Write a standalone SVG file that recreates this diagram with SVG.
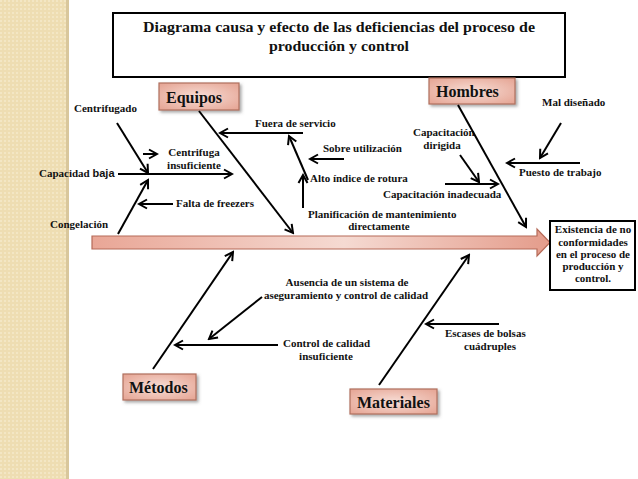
<svg xmlns="http://www.w3.org/2000/svg" width="638" height="479" viewBox="0 0 638 479">
<style>
.t{font-family:"Liberation Serif","Times New Roman",serif;font-weight:bold;font-size:11px;fill:#111}
.s{font-family:"Liberation Sans",Arial,sans-serif;font-weight:bold}
.big{font-size:16px}
.title{font-size:15.5px}
.c{text-anchor:middle}
.ln{stroke:#000;stroke-width:2;fill:none;marker-end:url(#ah)}
.cat{fill:url(#pk);stroke:#B0705E;stroke-width:1.2;filter:url(#sh)}
.wb{fill:#fff;stroke:#000;stroke-width:2}
</style>
<defs>
<pattern id="dots" width="4" height="4" patternUnits="userSpaceOnUse">
<rect width="4" height="4" fill="#EEDDB2"/>
<rect width="2" height="2" fill="#F3E6C4"/>
</pattern>
<radialGradient id="pk" cx="0.5" cy="0.5" r="0.7">
<stop offset="0" stop-color="#F7DDD5"/>
<stop offset="1" stop-color="#E5A392"/>
</radialGradient>
<linearGradient id="sp" x1="0" y1="0" x2="1" y2="0">
<stop offset="0" stop-color="#E9A696"/>
<stop offset="0.55" stop-color="#F5DAD2"/>
<stop offset="1" stop-color="#E49C8B"/>
</linearGradient>
<filter id="sh" x="-20%" y="-20%" width="150%" height="160%">
<feDropShadow dx="2" dy="2" stdDeviation="1.5" flood-color="#555" flood-opacity="0.5"/>
</filter>
<marker id="ah" viewBox="-10 -6 12 12" refX="0" refY="0" markerWidth="12" markerHeight="12" markerUnits="userSpaceOnUse" orient="auto">
<path d="M-8,-4.5 L0,0 L-8,4.5" fill="none" stroke="#000" stroke-width="2"/>
</marker>
</defs>
<rect width="638" height="479" fill="#fff"/>
<rect x="0" y="0" width="68" height="479" fill="url(#dots)"/>
<rect x="66" y="0" width="3" height="479" fill="#D9C79C"/>

<g id="title">
<rect class="wb" x="113" y="13" width="452" height="64"/>
<text class="t title c" x="339" y="32" textLength="392" lengthAdjust="spacingAndGlyphs">Diagrama causa y efecto de las deficiencias del proceso de</text>
<text class="t title c" x="339" y="51" textLength="140" lengthAdjust="spacingAndGlyphs">producción y control</text>
</g>

<g id="spine">
<path d="M92,236 L537,236 L537,229 L550,242.5 L537,256 L537,249 L92,249 Z" fill="url(#sp)" stroke="#B56A58" stroke-width="1.2"/>
</g>

<g id="effect">
<rect class="wb" x="550" y="221" width="85" height="69"/>
<text class="t c" x="593" y="233">Existencia de no</text>
<text class="t c" x="593" y="245.5">conformidades</text>
<text class="t c" x="593" y="258">en el proceso de</text>
<text class="t c" x="593" y="270">producción y</text>
<text class="t c" x="593" y="282">control.</text>
</g>

<g id="equipos">
<rect class="cat" x="159" y="83" width="80" height="27"/>
<text class="t big" x="166" y="103">Equipos</text>
</g>
<g id="hombres">
<rect class="cat" x="429" y="78" width="86" height="26"/>
<text class="t big" x="436" y="97">Hombres</text>
</g>
<g id="metodos">
<rect class="cat" x="123" y="374" width="73" height="26"/>
<text class="t big" x="129" y="393">Métodos</text>
</g>
<g id="materiales">
<rect class="cat" x="350" y="389" width="87" height="25"/>
<text class="t big" x="357" y="408">Materiales</text>
</g>

<g id="labels">
<text class="t" x="74" y="112">Centrifugado</text>
<text class="t c" x="194" y="156">Centrifuga</text>
<text class="t c" x="194" y="169">insuficiente</text>
<text class="t" x="39" y="177">Capacidad <tspan class="s">baja</tspan></text>
<text class="t" x="176" y="207">Falta de freezers</text>
<text class="t" x="50" y="228">Congelación</text>
<text class="t" x="255" y="127">Fuera de servicio</text>
<text class="t" x="323" y="152">Sobre utilización</text>
<text class="t" x="310" y="182">Alto índice de rotura</text>
<text class="t" x="308" y="218">Planificación de mantenimiento</text>
<text class="t c" x="379" y="230">directamente</text>
<text class="t" x="413" y="136">Capacitación</text>
<text class="t c" x="442" y="149">dirigida</text>
<text class="t" x="383" y="198">Capacitación inadecuada</text>
<text class="t" x="542" y="106">Mal diseñado</text>
<text class="t" x="519" y="176">Puesto de trabajo</text>
<text class="t c" x="347" y="286">Ausencia de un sistema de</text>
<text class="t c" x="346" y="299">aseguramiento y control de calidad</text>
<text class="t" x="283" y="347">Control de calidad</text>
<text class="t c" x="326" y="360">insuficiente</text>
<text class="t" x="445" y="337">Escases de bolsas</text>
<text class="t c" x="490" y="350">cuádruples</text>
</g>

<g id="connectors">
<line class="ln" x1="117" y1="123" x2="148" y2="173"/>
<line class="ln" x1="143" y1="154" x2="157" y2="154"/>
<line class="ln" x1="118" y1="174" x2="232" y2="174"/>
<line class="ln" x1="118" y1="234" x2="148" y2="180"/>
<line class="ln" x1="173" y1="204" x2="139" y2="204"/>
<line class="ln" x1="199" y1="111" x2="293" y2="233"/>
<line class="ln" x1="303" y1="133" x2="220" y2="133"/>
<line class="ln" x1="308" y1="180" x2="289" y2="136"/>
<line class="ln" x1="303" y1="208" x2="303" y2="175"/>
<line class="ln" x1="344" y1="159" x2="310" y2="159"/>
<line class="ln" x1="460" y1="155" x2="479" y2="182"/>
<line class="ln" x1="445" y1="184" x2="498" y2="184"/>
<line class="ln" x1="458" y1="105" x2="526" y2="227"/>
<line class="ln" x1="561" y1="123" x2="540" y2="158"/>
<line class="ln" x1="580" y1="163" x2="507" y2="163"/>
<line class="ln" x1="153" y1="369" x2="233" y2="252"/>
<line class="ln" x1="262" y1="297" x2="209" y2="339"/>
<line class="ln" x1="278" y1="345" x2="175" y2="345"/>
<line class="ln" x1="379" y1="385" x2="469" y2="255"/>
<line class="ln" x1="499" y1="324" x2="426" y2="324"/>
</g>
</svg>
